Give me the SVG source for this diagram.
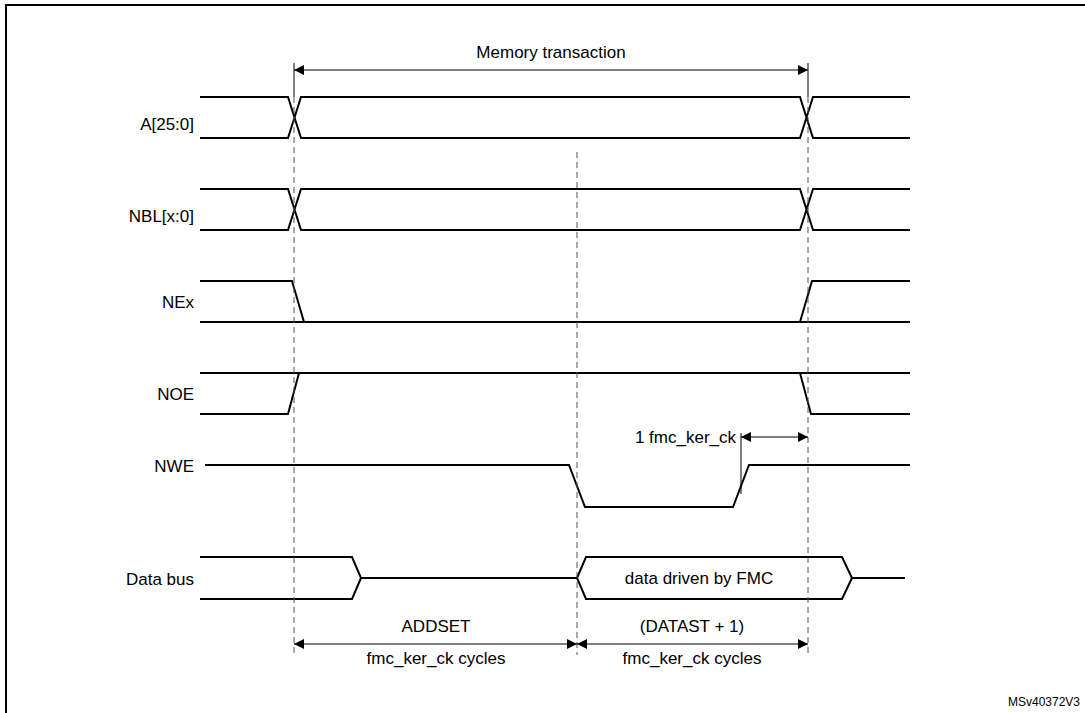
<svg xmlns="http://www.w3.org/2000/svg" width="1085" height="713" viewBox="0 0 1085 713">
<style>
.s{fill:none;stroke:#000;stroke-width:2}
.t{stroke:#000;stroke-width:1;fill:none}
.d{stroke:#555;stroke-width:1;stroke-dasharray:6,4;fill:none}
text{font-family:"Liberation Sans",Arial,sans-serif;font-size:17px;fill:#000}
.l{text-anchor:end}
.m{text-anchor:middle}
</style>
<defs>
<marker id="a" viewBox="0 0 10 10" refX="10" refY="5" markerWidth="12" markerHeight="10" markerUnits="userSpaceOnUse" orient="auto-start-reverse"><path d="M0,0L10,5L0,10z" fill="#000"/></marker>
</defs>
<rect x="6" y="5" width="1090" height="720" fill="#fff" stroke="#000" stroke-width="2"/>
<g id="labels">
<text class="l" x="194" y="130">A[25:0]</text>
<text class="l" x="194" y="222">NBL[x:0]</text>
<text class="l" x="194" y="308">NEx</text>
<text class="l" x="194" y="400">NOE</text>
<text class="l" x="194" y="472">NWE</text>
<text class="l" x="194" y="585">Data bus</text>
<text class="m" x="551" y="58">Memory transaction</text>
<text class="l" x="736" y="443">1 fmc_ker_ck</text>
<text class="m" x="699" y="584">data driven by FMC</text>
<text class="m" x="436" y="632">ADDSET</text>
<text class="m" x="436" y="664">fmc_ker_ck cycles</text>
<text class="m" x="692" y="632">(DATAST + 1)</text>
<text class="m" x="692" y="664">fmc_ker_ck cycles</text>
<text x="1080" y="706" style="font-size:12px;text-anchor:end">MSv40372V3</text>
</g>
<g id="A"><path class="s" d="M200,97H288L301,138H800L813,97H910M200,138H288L301,97H800L813,138H910"/></g>
<g id="NBL"><path class="s" d="M200,189H288L301,230H800L813,189H910M200,230H288L301,189H800L813,230H910"/></g>
<g id="NEx"><path class="s" d="M200,281H292L304,322H910M200,322H800L812,281H910"/></g>
<g id="NOE"><path class="s" d="M200,414H288L299,373H800L811,414H910M200,373H910"/></g>
<g id="NWE"><path class="s" d="M205,465H569L585,507H733L749,465H910"/></g>
<g id="Data"><path class="s" d="M200,557H352L361,578H577M200,599H352L361,578M577,578L586,557H842L852,578L842,599H586ZM852,578H905"/></g>
<g id="connectors">
<path class="t" d="M294,63V97M808,63V97M741,433V494"/>
<path class="d" d="M294,97V655M577,152V655M808,97V655"/>
<line class="t" x1="294" y1="70" x2="808" y2="70" marker-start="url(#a)" marker-end="url(#a)"/>
<line class="t" x1="741" y1="437" x2="808" y2="437" marker-start="url(#a)" marker-end="url(#a)"/>
<line class="t" x1="294" y1="644" x2="577" y2="644" marker-start="url(#a)" marker-end="url(#a)"/>
<line class="t" x1="577" y1="644" x2="808" y2="644" marker-start="url(#a)" marker-end="url(#a)"/>
</g>
</svg>
